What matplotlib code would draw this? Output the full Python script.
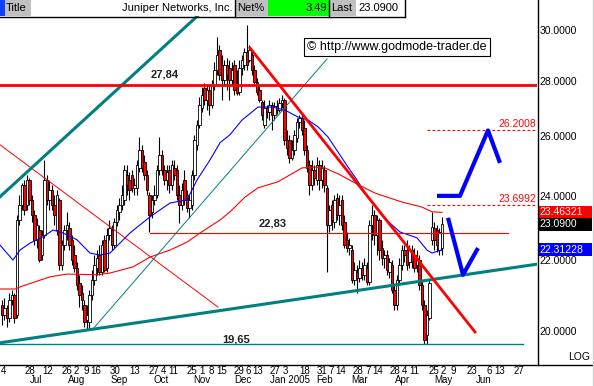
import numpy as np
import matplotlib.pyplot as plt
from matplotlib.patches import Rectangle
from matplotlib.lines import Line2D
import matplotlib.transforms as mtransforms
from matplotlib.ticker import NullLocator

plt.rcParams['font.family'] = ['Liberation Sans', 'DejaVu Sans']

# --- daily candles (trading-day index) ---
opens = [20.71, 20.43, 20.63, 20.35, 20.85, 20.99, 20.43, 23.22, 23.70, 24.35,
         23.70, 24.51, 23.86, 23.38, 22.61, 22.91, 22.15, 22.76, 24.51, 23.86,
         24.18, 23.70, 22.91, 23.86, 21.86, 22.45, 22.91, 22.97, 22.61, 22.15,
         21.77, 21.34, 21.05, 20.71, 20.30, 20.24, 20.99, 21.42, 21.77, 22.15,
         21.65, 22.61, 21.77, 22.76, 22.91, 22.45, 23.16, 23.48, 23.70, 23.86,
         24.68, 24.51, 24.68, 24.25, 24.25, 24.91, 25.52, 25.11, 24.68, 24.02,
         23.48, 23.86, 24.02, 24.84, 25.35, 24.84, 24.51, 24.84, 24.35, 24.91,
         24.84, 24.02, 23.70, 24.51, 24.02, 23.60, 23.70, 24.68, 25.70, 26.40,
         27.01, 27.75, 27.30, 27.67, 27.12, 27.86, 28.43, 29.20, 28.62, 28.05,
         28.62, 28.51, 28.05, 28.62, 27.86, 27.60, 28.51, 28.62, 29.12, 28.81,
         29.01, 28.43, 27.97, 27.67, 27.23, 26.40, 27.01, 26.86, 27.12, 26.75,
         27.08, 26.93, 27.19, 27.30, 25.87, 25.87, 25.25, 25.52, 25.94, 26.50,
         26.64, 26.29, 25.52, 25.01, 24.35, 24.84, 24.51, 25.01, 24.51, 24.84,
         24.25, 23.07, 23.70, 23.16, 23.92, 23.38, 23.86, 23.16, 22.61, 22.36,
         22.30, 21.42, 21.65, 21.48, 21.77, 21.57, 21.77, 21.36, 23.07, 23.38,
         22.76, 23.22, 22.36, 22.06, 22.15, 21.65, 21.86, 21.13, 20.71, 21.42,
         21.86, 22.30, 22.30, 21.94, 22.30, 22.15, 21.86, 22.00, 21.28, 20.71,
         19.89, 20.35, 22.61, 22.97, 22.91, 22.30, 22.36]
closes = [20.43, 20.63, 20.35, 20.85, 20.99, 20.35, 23.22, 23.70, 24.35, 23.54,
          24.51, 23.86, 23.38, 22.61, 23.07, 22.00, 22.76, 24.51, 23.86, 24.18,
          23.70, 23.38, 24.02, 21.86, 22.45, 22.91, 23.07, 22.45, 22.00, 21.77,
          21.28, 20.99, 20.85, 20.24, 20.43, 20.99, 21.42, 21.86, 22.06, 21.65,
          22.45, 21.71, 22.76, 22.97, 22.45, 23.16, 23.54, 23.70, 24.02, 24.84,
          24.35, 24.18, 24.25, 24.35, 25.01, 25.52, 24.91, 24.68, 24.18, 23.38,
          23.86, 24.02, 24.84, 25.35, 24.84, 24.51, 24.77, 24.35, 25.01, 24.68,
          24.02, 23.70, 24.18, 23.86, 23.60, 23.86, 24.68, 25.87, 26.40, 27.12,
          27.49, 27.30, 27.67, 27.12, 27.86, 28.43, 29.01, 28.24, 28.05, 28.62,
          28.24, 28.05, 28.43, 27.67, 27.56, 28.51, 28.81, 29.12, 28.62, 29.20,
          28.43, 27.97, 27.60, 27.30, 26.75, 27.01, 26.86, 27.12, 26.75, 27.08,
          26.93, 27.19, 27.30, 25.87, 25.59, 25.25, 25.52, 26.05, 26.50, 26.64,
          26.22, 25.52, 24.91, 24.35, 24.84, 24.57, 25.01, 24.51, 24.91, 24.35,
          23.07, 23.54, 23.22, 23.86, 23.38, 23.70, 23.07, 22.45, 22.36, 22.45,
          21.42, 21.71, 21.48, 21.77, 21.57, 21.86, 21.36, 23.07, 23.38, 22.76,
          23.22, 22.30, 22.06, 22.15, 21.71, 21.94, 21.13, 20.71, 21.42, 21.86,
          22.30, 22.15, 21.86, 22.30, 21.94, 21.77, 22.06, 21.28, 20.71, 19.76,
          20.43, 21.34, 23.01, 22.61, 22.45, 22.85, 23.09]
highs = [20.85, 20.91, 20.71, 21.05, 21.13, 21.05, 23.38, 24.02, 24.41, 24.51,
         24.68, 24.57, 24.02, 23.54, 23.29, 23.07, 22.91, 25.18, 24.68, 24.51,
         24.35, 24.02, 24.18, 23.92, 22.61, 23.07, 23.48, 23.16, 22.76, 22.45,
         21.94, 21.57, 21.28, 20.85, 20.71, 21.13, 21.71, 22.15, 22.30, 22.45,
         22.61, 22.76, 22.97, 23.22, 23.07, 23.29, 23.70, 23.92, 24.35, 25.01,
         25.01, 24.77, 24.84, 24.57, 25.18, 25.97, 25.70, 25.35, 24.84, 24.12,
         24.02, 24.35, 25.01, 25.97, 25.52, 25.01, 25.01, 25.01, 25.18, 25.18,
         25.01, 24.35, 24.41, 24.84, 24.18, 24.02, 24.84, 26.05, 26.57, 27.41,
         27.78, 27.94, 27.86, 27.86, 28.05, 28.74, 29.72, 29.40, 29.01, 28.81,
         28.89, 28.81, 28.74, 28.81, 28.43, 28.81, 29.01, 29.28, 30.20, 29.40,
         29.20, 28.62, 28.13, 27.86, 27.30, 27.30, 27.12, 27.30, 27.23, 27.23,
         27.30, 27.38, 27.49, 27.38, 26.22, 26.05, 25.87, 26.22, 26.64, 26.75,
         26.75, 26.57, 25.70, 25.18, 25.18, 25.01, 25.28, 25.18, 25.18, 25.01,
         24.35, 23.70, 23.86, 24.02, 24.08, 24.02, 24.02, 23.38, 22.85, 22.67,
         22.45, 21.94, 21.86, 22.00, 21.94, 22.06, 21.94, 23.22, 23.70, 23.54,
         23.38, 23.29, 22.61, 22.30, 22.30, 22.06, 22.00, 21.28, 21.57, 22.06,
         22.45, 22.45, 22.61, 22.45, 22.45, 22.36, 22.30, 22.15, 21.42, 20.85,
         20.57, 21.42, 23.48, 23.16, 23.07, 22.97, 23.32]
lows = [20.16, 20.30, 20.10, 20.24, 20.71, 20.22, 20.35, 23.07, 23.54, 23.38,
        23.54, 23.70, 23.16, 22.45, 22.36, 21.94, 22.00, 22.67, 23.70, 23.54,
        23.54, 23.07, 22.76, 21.71, 21.71, 22.30, 22.61, 22.30, 21.86, 21.65,
        21.13, 20.65, 20.57, 20.10, 20.02, 20.02, 20.85, 21.28, 21.57, 21.57,
        21.57, 21.65, 21.65, 22.61, 22.30, 22.36, 23.04, 23.22, 23.54, 23.70,
        24.02, 23.86, 24.12, 24.02, 24.02, 24.77, 24.77, 24.51, 24.02, 22.85,
        23.29, 23.70, 23.92, 24.68, 24.68, 24.35, 24.18, 24.08, 24.18, 24.51,
        23.86, 23.13, 23.54, 23.70, 23.48, 23.29, 23.54, 24.51, 25.52, 26.29,
        26.86, 27.12, 26.93, 26.75, 27.01, 27.67, 28.24, 28.05, 27.30, 27.86,
        27.67, 27.30, 27.86, 27.49, 27.49, 27.49, 28.24, 28.43, 28.43, 28.74,
        28.24, 27.86, 27.49, 27.23, 26.57, 26.29, 26.64, 26.57, 26.22, 26.57,
        26.79, 26.86, 27.01, 25.70, 25.35, 25.08, 25.18, 25.35, 25.80, 26.29,
        26.05, 25.35, 24.77, 24.02, 24.18, 24.35, 24.35, 24.18, 24.25, 24.12,
        21.65, 22.85, 22.91, 22.97, 23.22, 23.07, 22.91, 22.36, 22.24, 22.15,
        21.34, 21.28, 21.05, 21.36, 21.42, 21.42, 21.28, 21.28, 22.61, 22.45,
        22.15, 22.00, 21.86, 21.77, 21.57, 21.48, 21.05, 20.57, 20.57, 21.28,
        21.71, 21.94, 21.71, 21.77, 21.77, 21.65, 21.65, 21.13, 20.57, 19.65,
        19.65, 20.30, 22.45, 22.30, 22.24, 22.15, 22.15]

# moving averages (blue short, red long)
ma_blue_x = [-0.8, 4.4, 7.2, 11.2, 16.4, 20.4, 24.4, 30, 35.2, 39.2, 43.2, 51.2,
             59.2, 67.2, 74, 78, 83.2, 87.2, 91.2, 96, 102.4, 108, 113.2, 118.4,
             122.4, 126.4, 130.4, 134.4, 139.2, 142, 145.2, 152.4, 159.2, 166,
             170, 172, 176]
ma_blue_y = [22.45, 22.00, 22.30, 22.51, 22.70, 22.91, 22.82, 22.61, 22.21, 22.15,
             22.21, 22.82, 23.32, 23.76, 23.86, 24.51, 25.18, 25.77, 26.05, 26.57,
             27.04, 27.04, 26.93, 26.68, 26.57, 26.33, 25.97, 25.45, 24.84, 24.51,
             24.08, 23.32, 22.85, 22.67, 22.30, 22.21, 22.31]
ma_red_x = [-0.8, 5.2, 7.2, 19.2, 26, 38, 43.2, 52.4, 59.2, 67.2, 74, 79.2, 87.2,
            91.2, 97.2, 102.4, 110.4, 120, 125.2, 129.2, 135.2, 141.2, 149.2,
            160, 168, 172, 176]
ma_red_y = [21.16, 21.16, 21.22, 21.51, 21.59, 21.57, 21.62, 21.80, 22.09, 22.30,
            22.54, 22.82, 23.22, 23.48, 23.95, 24.25, 24.45, 24.91, 24.94, 24.91,
            24.68, 24.41, 24.08, 23.79, 23.63, 23.48, 23.46]

# trend lines (x index, price)
upper_channel = ([-0.8, 80.8], [23.96, 30.82])
support_line = ([-0.8, 214], [19.68, 21.88])
thin_teal = ([36, 130], [20.02, 28.85])
thin_red = ([-0.8, 86.4], [25.70, 20.65])
down_trend = ([99.2, 189.2], [29.28, 19.97])
level_high = 27.84
level_mid = 22.83
level_low = 19.65
target_up = 26.2008
target_low = 23.6992
proj1 = ([174, 183.2, 194.4, 199.2], [23.99, 23.99, 26.20, 25.08])
proj2 = ([178.4, 184.4, 190.4], [23.29, 21.57, 22.36])

# last values on the right scale
last_red_ma = 23.46321
last_close = 23.0900
last_blue_ma = 22.31228

# x axis labels
day_pos = [0.6, 11.2, 18.24, 25.96, 29.8, 33.68, 37.52, 45.24, 52.96, 60.68,
           64.56, 68.4, 76.12, 80, 83.84, 87.72, 94.68, 98.52, 102.4, 109.32,
           113.2, 120.92, 127.84, 131.72, 135.6, 142.52, 146.4, 150.24, 157.2,
           161.04, 164.92, 172.64, 176.48, 180.36, 188.08, 195.04, 198.88, 206.6]
day_labels = ['4', '28', '12', '26', '2', '9', '16', '30', '13', '27',
              '4', '11', '25', '1', '8', '15', '29', '6', '13', '27',
              '3', '18', '31', '7', '14', '28', '7', '14', '28',
              '4', '11', '25', '2', '9', '23', '6', '13', '27']
month_pos = [13.6, 29.8, 46.8, 63.6, 80, 96.2, 115.2, 129.2, 143.2, 160.28, 176.4, 192.8]
month_labels = ['Jul', 'Aug', 'Sep', 'Oct', 'Nov', 'Dec', 'Jan 2005', 'Feb',
                'Mar', 'Apr', 'May', 'Jun']
y_ticks = [20, 22, 24, 26, 28, 30]

W, H = 594, 386
fig = plt.figure(figsize=(W / 100, H / 100), dpi=100)
ax = fig.add_axes([0, 21 / H, 537 / W, 349 / H])
ax.set_yscale('log')
ax.set_ylim(19.10, 30.57)
ax.set_xlim(-0.8, 214)
for s in ax.spines.values():
    s.set_visible(False)

teal = '#008080'
o = np.array(opens)
c = np.array(closes)
x = np.arange(len(o))
up = c >= o

# candles
ax.vlines(x, lows, highs, color='black', lw=0.8, zorder=3)
ax.bar(x, np.abs(c - o), bottom=np.minimum(o, c), width=0.85,
       color=np.where(up, 'white', 'red'), edgecolor='black', linewidth=0.6, zorder=4)

# averages
ax.plot(ma_blue_x, ma_blue_y, color='blue', lw=0.8, zorder=5)
ax.plot(ma_red_x, ma_red_y, color='red', lw=0.8, zorder=5)

# lines
ax.plot(*upper_channel, color=teal, lw=2.2, zorder=6)
ax.plot(*support_line, color=teal, lw=2.2, zorder=6)
ax.plot(*thin_teal, color=teal, lw=0.7, zorder=5)
ax.plot(*thin_red, color='red', lw=0.7, zorder=5)
ax.plot(*down_trend, color='red', lw=2.0, zorder=6)
ax.plot([-0.8, 214], [level_high, level_high], color='red', lw=2.0, zorder=6)
ax.plot([59.2, 202.4], [level_mid, level_mid], color='red', lw=0.8, zorder=5)
ax.plot([-0.8, 208.4], [level_low, level_low], color=teal, lw=1.0, zorder=5)
for lvl in (target_up, target_low):
    ax.plot([170, 214], [lvl, lvl], color='red', lw=0.8, ls=(0, (2.5, 2)), zorder=5)
ax.plot(*proj1, color='blue', lw=3, zorder=6, solid_capstyle='butt')
ax.plot(*proj2, color='blue', lw=3, zorder=6, solid_capstyle='butt')

# level annotations
ax.text(65.2, 28.24, '27,84', ha='center', va='center', fontsize=8, fontweight='bold', color='#202020')
ax.text(108.4, 23.10, '22,83', ha='center', va='center', fontsize=8, fontweight='bold', color='#202020')
ax.text(99.2, 19.76, '19,65', ha='right', va='center', fontsize=8, fontweight='bold', color='#202020')
ax.text(213.6, 26.43, '26.2008', ha='right', va='center', fontsize=7.5, color='red')
ax.text(213.6, 23.89, '23.6992', ha='right', va='center', fontsize=7.5, color='red')

# axes ticks
ax.yaxis.tick_right()
ax.set_yticks(y_ticks)
ax.set_yticklabels(['%.4f' % v for v in y_ticks])
ax.yaxis.set_minor_locator(NullLocator())
ax.tick_params(axis='y', length=0, pad=2, labelsize=7.5)
ax.xaxis.remove_overlapping_locs = False
ax.set_xticks(day_pos)
ax.set_xticklabels(day_labels)
ax.set_xticks(month_pos, minor=True)
ax.set_xticklabels(month_labels, minor=True)
ax.tick_params(axis='x', which='major', length=0, pad=0.5, labelsize=7)
ax.tick_params(axis='x', which='minor', length=0, pad=7.5, labelsize=7)

# value boxes on the price scale
bt = mtransforms.blended_transform_factory(fig.transFigure, ax.transData)
for val, txt, fc in [(last_red_ma, '23.46321', 'red'),
                     (last_close, '23.0900', 'black'),
                     (last_blue_ma, '22.31228', 'blue')]:
    y0 = val * np.exp(-6.5 / 742)
    y1 = val * np.exp(6.5 / 742)
    fig.patches.append(Rectangle((538 / W, y0), 54 / W, y1 - y0, transform=bt,
                                 fc=fc, ec='none', zorder=3))
    fig.text(539 / W, val, txt, transform=bt, color='white', fontsize=7.5,
             va='center', ha='left', zorder=4)


def px_rect(x0, y0, w, h, fc):
    fig.patches.append(Rectangle((x0 / W, 1 - (y0 + h) / H), w / W, h / H,
                                 transform=fig.transFigure, fc=fc, ec='none', zorder=3))


def px_line(xs, ys, color='black', lw=1.0):
    fig.lines.append(Line2D([v / W for v in xs], [1 - v / H for v in ys],
                            transform=fig.transFigure, color=color, lw=lw, zorder=4))


def px_text(x0, y0, s, size=8, **kw):
    fig.text(x0 / W, 1 - y0 / H, s, va='center', fontsize=size, zorder=5, **kw)


# title bar
px_rect(0, 0, 405, 16, 'white')
px_rect(0, 0, 4.5, 16, '#1040ff')
px_rect(4.5, 0, 26.5, 16, '#c0c0c0')
px_rect(235, 0, 33, 16, '#c0c0c0')
px_rect(268, 0, 61, 16, '#00ff00')
px_rect(329, 0, 27, 16, '#c0c0c0')
px_text(6, 8, 'Title', ha='left')
px_text(232, 8, 'Juniper Networks, Inc.', ha='right')
px_text(237, 8, 'Net%', ha='left')
px_text(327, 8, '3.49', ha='right')
px_text(331, 8, 'Last', ha='left')
px_text(358, 8, '23.0900', ha='left')
px_line([0, 405], [16.5, 16.5])
px_line([405, 405], [0, 16.5])
px_line([235, 235], [0, 16.5])
px_line([329, 329], [0, 16.5])

# frame lines
px_line([537.5, 537.5], [0, 365])
px_line([0, 594], [365, 365])
px_line([592.5, 592.5], [0, 386], color='#d0d0d0')
px_text(590, 357, 'LOG', size=7.5, ha='right')

# copyright box
fig.text(397 / W, 1 - 47 / H, '\u00a9 http://www.godmode-trader.de', ha='center', va='center',
         fontsize=9, bbox=dict(boxstyle='square,pad=0.25', fc='white', ec='black', lw=0.8), zorder=5)

fig.savefig('out.png', dpi=100)
